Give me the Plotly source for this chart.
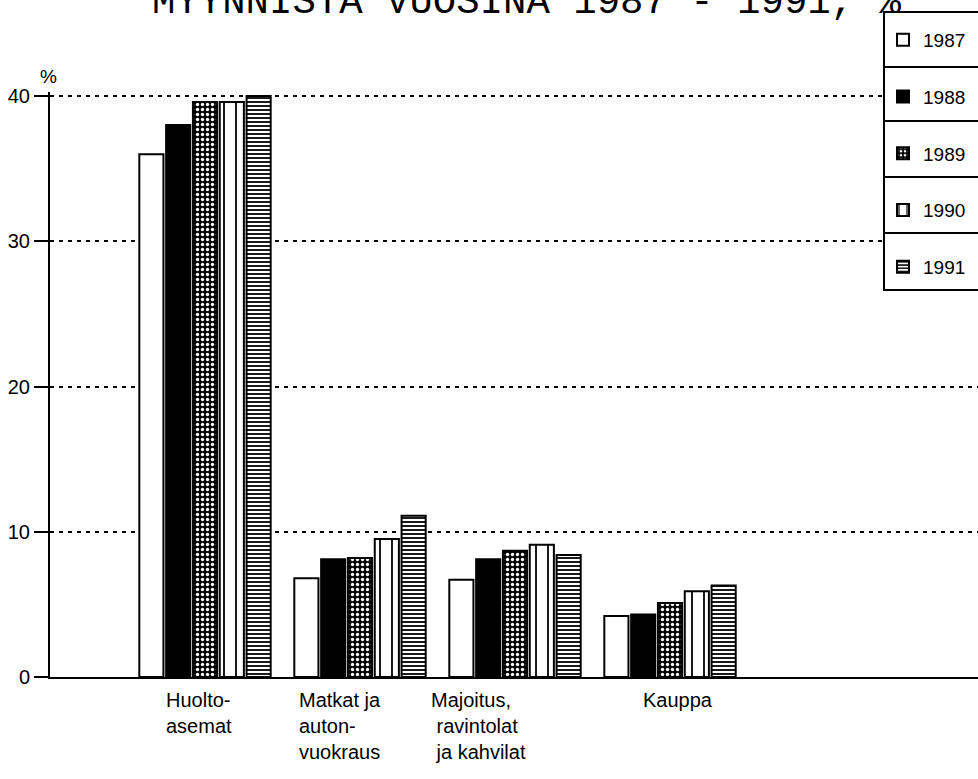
import plotly.graph_objects as go

categories = ["Huolto-<br>asemat", "Matkat ja<br>auton-<br>vuokraus",
              "Majoitus,<br>\u00a0ravintolat<br>\u00a0ja kahvilat", "Kauppa"]
years = ["1987", "1988", "1989", "1990", "1991"]
v1987 = [36.0, 6.8, 6.7, 4.2]
v1988 = [38.0, 8.1, 8.1, 4.3]
v1989 = [39.6, 8.2, 8.7, 5.1]
v1990 = [39.6, 9.5, 9.1, 5.9]
v1991 = [40.0, 11.1, 8.4, 6.3]
series = [v1987, v1988, v1989, v1990, v1991]
yticks = [0, 10, 20, 30, 40]
title_text = "MYYNNISTÄ VUOSINA 1987 - 1991, %"

FONT = "Liberation Sans, Arial, sans-serif"

patterns = [
    dict(shape="", bg="white"),
    dict(shape="", bg="black"),
    dict(shape=".", bg="black", fg="white", size=5, sol=0.35),
    dict(shape="|", bg="white", fg="black", size=12, sol=0.15),
    dict(shape="-", bg="white", fg="black", size=4, sol=0.45),
]

# plot area in px: x 50..978, y 92..677 (585 px tall)
PT, PB, PL, PW = 92, 677, 50, 928
def py2p(py):
    return (PB - py) / (PB - PT)
def px2p(px):
    return (px - PL) / PW

xpos = list(range(len(categories)))
fig = go.Figure()
for i, (yr, vals) in enumerate(zip(years, series)):
    p = patterns[i]
    marker = dict(color=p["bg"], line=dict(color="black", width=2))
    if p["shape"]:
        marker["pattern"] = dict(shape=p["shape"], fgcolor=p["fg"], bgcolor=p["bg"],
                                 size=p["size"], solidity=p["sol"], fillmode="replace")
    fig.add_trace(go.Bar(x=xpos, y=vals, name=yr, marker=marker, legendgroup=yr))

label_x = [-0.265, 0.594, 1.445, 2.813]
for cx, lab in zip(label_x, categories):
    fig.add_annotation(x=cx, y=0, xref="x", yref="y", text=lab, showarrow=False,
                       xanchor="left", yanchor="top", yshift=-10, align="left",
                       font=dict(family=FONT, size=20, color="black"))

fig.add_annotation(xref="paper", yref="paper", x=px2p(48), y=py2p(76), text="%",
                   xanchor="center", yanchor="middle",
                   showarrow=False, font=dict(family=FONT, size=19, color="black"))

fig.add_annotation(xref="paper", yref="paper", x=px2p(150), xanchor="left",
                   y=py2p(27), yanchor="bottom", text=title_text, showarrow=False,
                   font=dict(family="Liberation Mono, DejaVu Sans Mono, monospace", size=39,
                             color="black"))

# legend frame and separators
fig.add_shape(type="rect", xref="paper", yref="paper", x0=px2p(884), x1=px2p(985),
              y0=py2p(290), y1=py2p(12), fillcolor="white",
              line=dict(color="black", width=2), layer="above")
for py in [67, 121, 177, 233]:
    fig.add_shape(type="line", xref="paper", yref="paper", x0=px2p(884), x1=px2p(985),
                  y0=py2p(py), y1=py2p(py), line=dict(color="black", width=2),
                  layer="above")

fig.update_layout(
    width=978, height=779,
    margin=dict(l=PL, r=0, t=PT, b=779 - PB, autoexpand=False),
    paper_bgcolor="white", plot_bgcolor="white",
    barmode="group", bargap=0.135, bargroupgap=0.1,
    showlegend=True,
    legend=dict(xref="container", yref="container", x=883 / 978, y=1 - 21 / 779,
                xanchor="left", yanchor="top",
                bgcolor="rgba(0,0,0,0)", borderwidth=0,
                font=dict(family=FONT, size=19, color="black"),
                tracegroupgap=29, itemwidth=30, traceorder="grouped"),
    xaxis=dict(range=[-1, 4.987], showticklabels=False, ticks="", showgrid=False,
               zeroline=False, showline=True, linecolor="black", linewidth=2),
    yaxis=dict(range=[0, 40.28], tickvals=yticks, ticks="outside", ticklen=14,
               tickwidth=2, tickcolor="black", showline=True, linecolor="black",
               linewidth=2, showgrid=True, gridcolor="black", gridwidth=1.5,
               griddash="4px,5px", zeroline=False,
               tickfont=dict(family=FONT, size=20, color="black")),
)
fig.write_html("out.html", config={"displayModeBar": False},
               post_script="document.body.style.margin='0px';")
